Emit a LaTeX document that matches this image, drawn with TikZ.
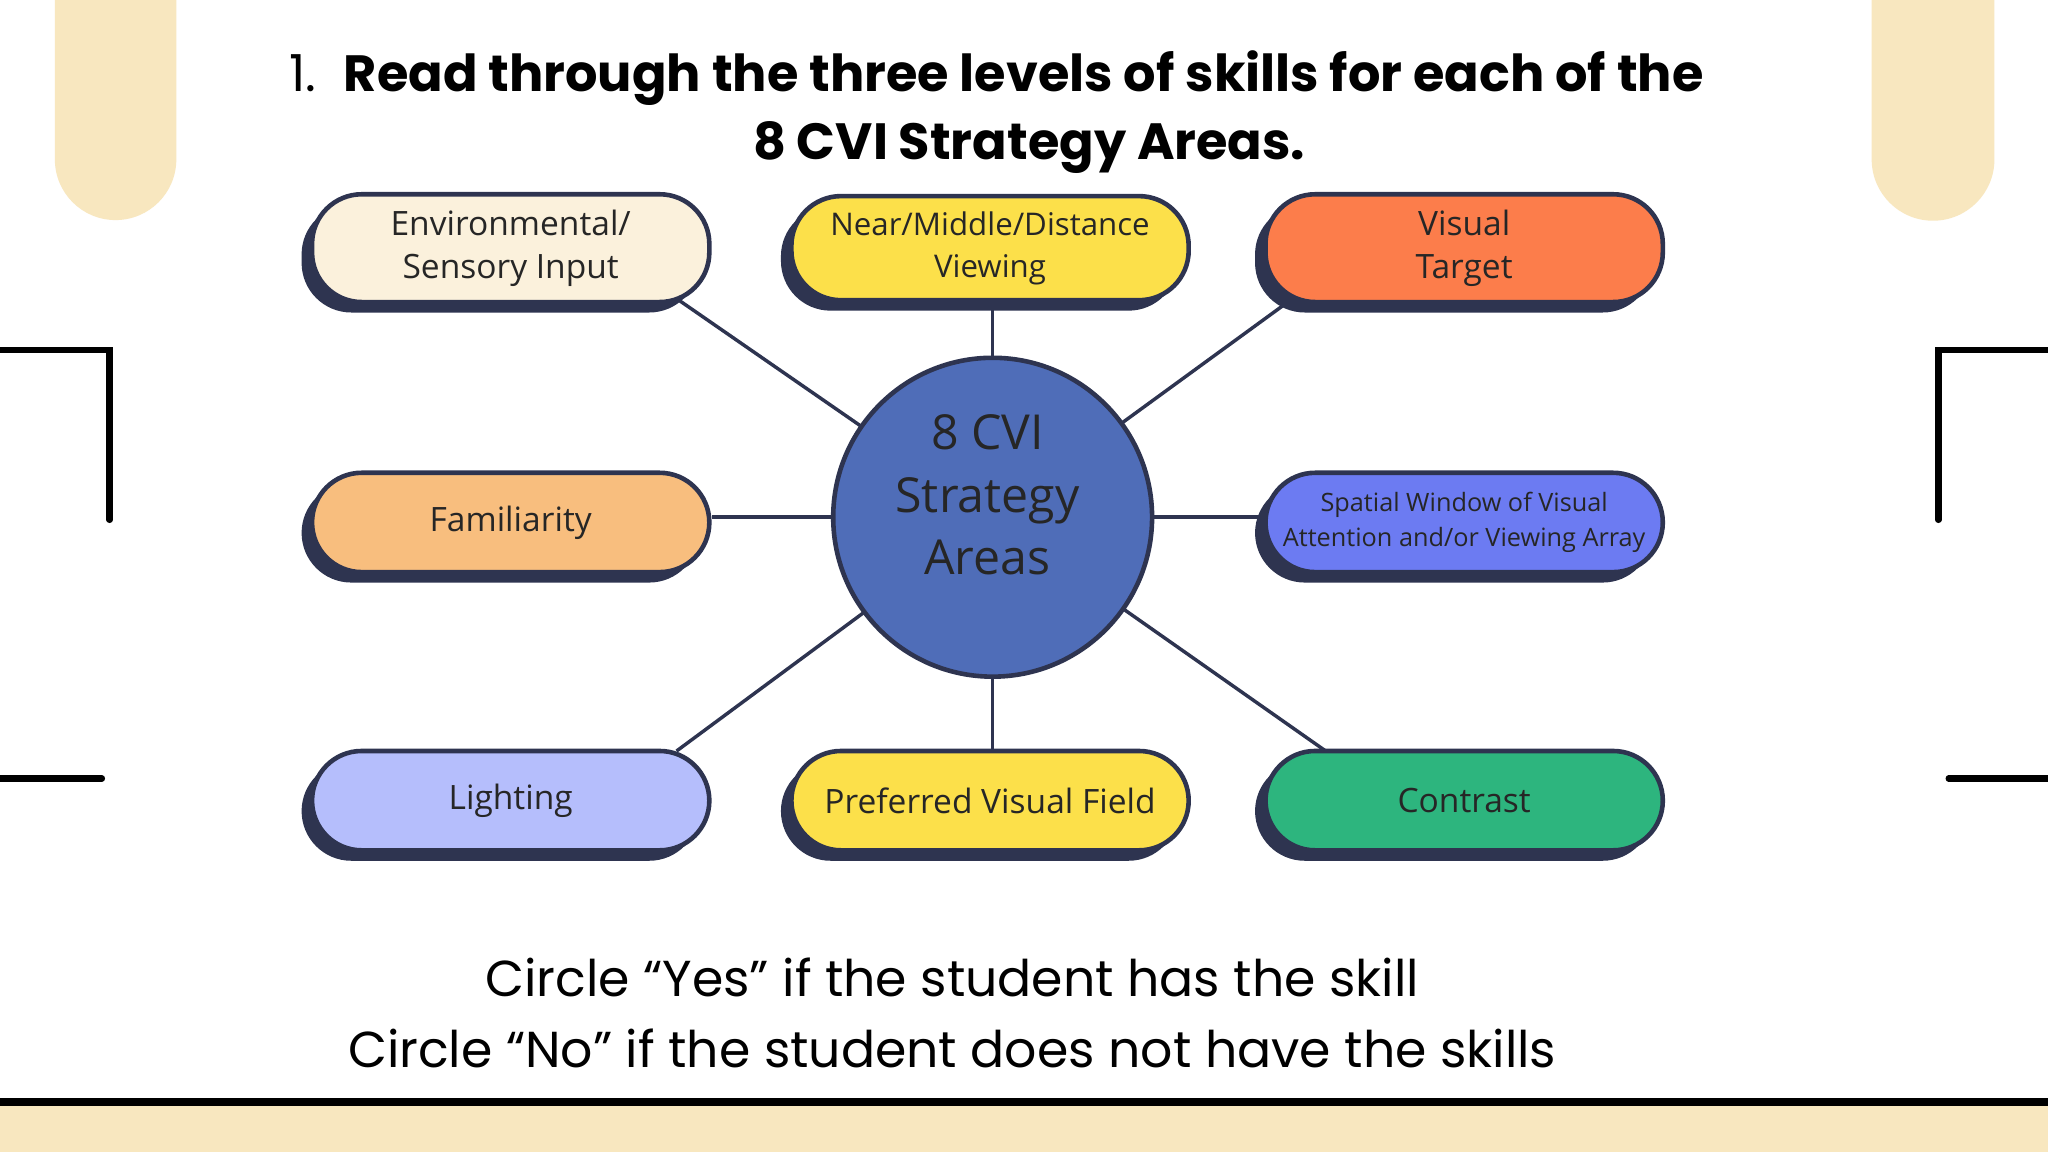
\documentclass[tikz,border=0pt]{standalone}
\usepackage{fontspec}
\setmainfont{Open Sans}
\newfontfamily\pop{Poppins}
\usetikzlibrary{shadows,calc}
\definecolor{dk}{HTML}{2E3450}
\definecolor{beige}{HTML}{F8E7BF}
\definecolor{cblue}{HTML}{4F6DB8}
\definecolor{cenv}{HTML}{FBF1DC}
\definecolor{cyel}{HTML}{FCE04A}
\definecolor{cora}{HTML}{FC7D4B}
\definecolor{cfam}{HTML}{F8BE7E}
\definecolor{csw}{HTML}{6C7BF2}
\definecolor{cli}{HTML}{B5BEFC}
\definecolor{cco}{HTML}{2DB57E}
\tikzset{
 pill/.style={rectangle,rounded corners=0.38cm,draw=dk,line width=1pt,minimum width=3.04cm,minimum height=0.76cm,inner xsep=2pt,align=center,font=\fontsize{7.3}{9.5}\selectfont,text=black!85,
   drop shadow={shadow xshift=-0.08cm,shadow yshift=-0.08cm,fill=dk,opacity=1}},
 conn/.style={dk,line width=0.75pt},
 bk/.style={line width=1.4pt,black}
}
\begin{document}
\begin{tikzpicture}[x=0.01cm,y=-0.01cm]
\useasboundingbox (0,0) rectangle (1568,882);
\fill[white] (0,0) rectangle (1568,882);
% beige bars
\fill[beige] (42,0) -- (42,122) arc[start angle=180,end angle=0,radius=46.5] -- (135,0) -- cycle;
\fill[beige] (1433,0) -- (1433,122) arc[start angle=180,end angle=0,radius=47] -- (1527,0) -- cycle;
\fill[beige] (0,846) rectangle (1568,882);
\draw[line width=1.8pt] (0,844) -- (1568,844);
% brackets
\draw[bk,line cap=round] (0,268) -- (84,268) -- (84,398);
\draw[bk,line cap=round] (0,596) -- (78,596);
\draw[bk,line cap=round] (1568,268) -- (1484,268) -- (1484,398);
\draw[bk,line cap=round] (1568,596) -- (1492,596);
% title
\node[font=\pop\fontsize{11.1}{14}\selectfont] (t1) at (763,60) {1.\ \ \textbf{Read through the three levels of skills for each of the}};
\node[font=\pop\bfseries\fontsize{11.1}{14}\selectfont] (t2) at (788,113) {8 CVI Strategy Areas.};
% center
\coordinate (c) at (760,396);
\coordinate (e1) at (520,230);
\coordinate (e2) at (760,235);
\coordinate (e3) at (985,232);
\coordinate (e4) at (545,396);
\coordinate (e5) at (966,396);
\coordinate (e6) at (518,575);
\coordinate (e7) at (760,575);
\coordinate (e8) at (1015,575);
\foreach \e in {e1,e2,e3,e4,e5,e6,e7,e8} \draw[conn] (c) -- (\e);
\node[circle,draw=dk,line width=1pt,fill=cblue,minimum size=2.44cm] (cc) at (c) {};
\node[align=center,font=\fontsize{10.5}{13.6}\selectfont,text=black!85] (ct) at (756,379) {8 CVI\\Strategy\\Areas};
\node[pill,fill=cenv] (env) at (391,190) {Environmental/\\Sensory Input};
\node[pill,fill=cyel,font=\fontsize{6.8}{9.2}\selectfont] (near) at (758,190) {Near/Middle/Distance\\Viewing};
\node[pill,fill=cora] (vt) at (1121,190) {Visual\\Target};
\node[pill,fill=cfam] (fam) at (391,400) {Familiarity};
\node[pill,fill=csw,font=\fontsize{5.5}{7.6}\selectfont] (sw) at (1121,400) {Spatial Window of Visual\\Attention and/or Viewing Array};
\node[pill,fill=cli] (li) at (391,613) {Lighting};
\node[pill,fill=cyel] (pv) at (758,613) {Preferred Visual Field};
\node[pill,fill=cco] (co) at (1121,613) {Contrast};
% bottom
\node[font=\pop\fontsize{11}{14}\selectfont] (b1) at (729,748) {Circle “Yes” if the student has the skill};
\node[font=\pop\fontsize{11}{14}\selectfont] (b2) at (729,803) {Circle “No” if the student does not have the skills};
\end{tikzpicture}
\end{document}
